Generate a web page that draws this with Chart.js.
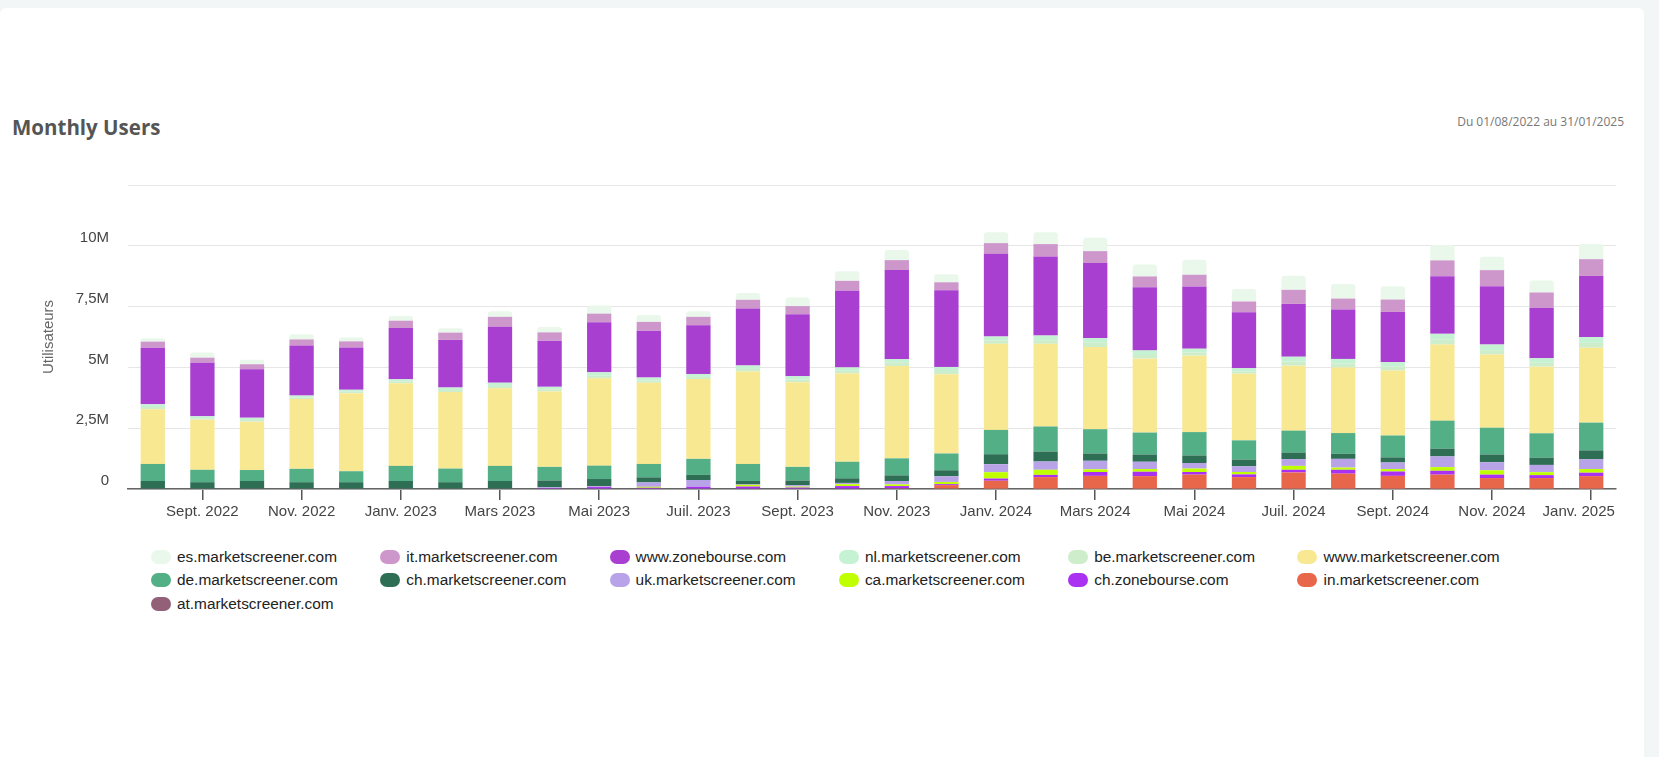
<!DOCTYPE html>
<html>
<head>
<meta charset="utf-8">
<title>Monthly Users</title>
<script src="https://cdn.jsdelivr.net/npm/chart.js@4.4.1/dist/chart.umd.min.js"></script>
<style>
    body { margin: 0; width: 1659px; height: 757px; background: #f3f6f6; overflow: hidden; font-family: "Liberation Sans", Arial, sans-serif; }
    .card { position: absolute; left: 0; top: 8px; width: 1644px; height: 749px; background: #fff; border-radius: 6px 6px 0 0; }
    .title { position: absolute; left: 12px; top: 105px; font: bold 20.5px/28px "Open Sans", sans-serif; color: #555; }
    .period { position: absolute; right: 20px; top: 105px; font: 12px/18px "Open Sans", sans-serif; color: #777; }
    .chart-box { position: absolute; left: 0; top: 150px; width: 1659px; height: 379px; }
    #legend { position: absolute; left: 151px; top: 545px; display: grid; grid-template-columns: repeat(6, 229.3px); grid-auto-rows: 23.5px; }
    .item { display: flex; align-items: center; font-size: 15.4px; color: #222; white-space: nowrap; }
    .dot { width: 20px; height: 14px; border-radius: 7px; margin-right: 6px; flex: none; }
</style>
</head>
<body>
<div class="card">
    <div class="title">Monthly Users</div>
    <div class="period">Du 01/08/2022 au 31/01/2025</div>
</div>
<div class="chart-box"><canvas id="usersChart"></canvas></div>
<div id="legend"></div>

<script>
// values in millions of users, Aug 2022 -> Jan 2025
const months = [
    "Août 2022", "Sept. 2022", "Oct. 2022", "Nov. 2022", "Déc. 2022",
    "Janv. 2023", "Févr. 2023", "Mars 2023", "Avr. 2023", "Mai 2023", "Juin 2023", "Juil. 2023",
    "Août 2023", "Sept. 2023", "Oct. 2023", "Nov. 2023", "Déc. 2023",
    "Janv. 2024", "Févr. 2024", "Mars 2024", "Avr. 2024", "Mai 2024", "Juin 2024", "Juil. 2024",
    "Août 2024", "Sept. 2024", "Oct. 2024", "Nov. 2024", "Déc. 2024", "Janv. 2025"
];
const yTickLabels = ["0", "2,5M", "5M", "7,5M", "10M", ""];

const esMs   = [0.14,0.21,0.18,0.21,0.16,0.19,0.18,0.23,0.22,0.34,0.28,0.23,0.28,0.35,0.39,0.42,0.33,0.45,0.49,0.55,0.49,0.62,0.51,0.58,0.60,0.55,0.63,0.55,0.49,0.62];
const itMs   = [0.25,0.21,0.21,0.25,0.25,0.30,0.30,0.41,0.34,0.35,0.36,0.35,0.36,0.33,0.41,0.41,0.33,0.44,0.51,0.49,0.44,0.48,0.44,0.58,0.45,0.51,0.65,0.66,0.64,0.69];
const wwwZb  = [2.33,2.20,1.99,2.06,1.74,2.11,1.96,2.30,1.90,2.06,1.93,2.00,2.34,2.55,3.15,3.66,3.15,3.40,3.25,3.08,2.60,2.56,2.30,2.17,2.03,2.06,2.37,2.40,2.06,2.51];
const nlMs   = [0.11,0.08,0.09,0.08,0.08,0.09,0.10,0.13,0.10,0.14,0.12,0.12,0.14,0.14,0.14,0.15,0.17,0.17,0.19,0.20,0.19,0.16,0.13,0.20,0.19,0.19,0.24,0.23,0.19,0.24];
const beMs   = [0.09,0.06,0.07,0.06,0.06,0.07,0.08,0.10,0.09,0.11,0.09,0.09,0.11,0.11,0.11,0.13,0.13,0.13,0.15,0.17,0.15,0.13,0.10,0.17,0.16,0.16,0.20,0.18,0.16,0.20];
const wwwMs  = [2.25,2.06,1.99,2.87,3.21,3.40,3.15,3.19,3.10,3.59,3.34,3.28,3.80,3.48,3.63,3.80,3.26,3.54,3.40,3.38,3.04,3.14,2.74,2.67,2.70,2.67,3.13,3.01,2.74,3.08];
const deMs   = [0.70,0.51,0.45,0.55,0.45,0.62,0.56,0.62,0.56,0.55,0.55,0.66,0.70,0.56,0.68,0.70,0.69,1.00,1.03,1.00,0.90,0.96,0.79,0.90,0.85,0.90,1.15,1.10,1.00,1.14];
const chMs   = [0.33,0.28,0.33,0.28,0.28,0.33,0.28,0.33,0.28,0.30,0.21,0.21,0.14,0.19,0.19,0.23,0.25,0.41,0.41,0.30,0.30,0.31,0.28,0.27,0.21,0.21,0.32,0.32,0.30,0.37];
const ukMs   = [0,0,0,0,0,0,0,0,0.03,0.03,0.18,0.28,0.02,0.06,0.05,0.14,0.23,0.33,0.34,0.35,0.30,0.23,0.23,0.28,0.36,0.27,0.44,0.33,0.30,0.40];
const caMs   = [0,0,0,0,0,0,0,0,0,0,0.04,0,0.07,0.04,0.08,0.07,0.09,0.26,0.21,0.11,0.11,0.14,0.10,0.16,0.09,0.10,0.15,0.18,0.12,0.15];
const chZb   = [0,0,0,0,0,0,0,0,0.04,0.08,0.05,0.09,0.08,0.04,0.10,0.09,0.04,0.09,0.09,0.16,0.18,0.11,0.11,0.11,0.16,0.18,0.16,0.14,0.12,0.14];
const inMs   = [0,0,0,0,0,0,0,0,0,0,0,0,0.02,0.02,0.02,0.03,0.16,0.33,0.48,0.53,0.52,0.58,0.48,0.67,0.62,0.53,0.58,0.44,0.44,0.52];
const atMs   = [0,0,0,0,0,0,0,0,0,0,0,0,0,0,0,0,0,0.01,0.01,0.01,0.01,0.01,0.01,0.01,0.01,0.01,0.01,0.01,0.01,0.01];

// bottom of the stack first
const series = [
    { label: "at.marketscreener.com", data: atMs, color: "#936177" },
    { label: "in.marketscreener.com", data: inMs, color: "#e8674a" },
    { label: "ch.zonebourse.com", data: chZb, color: "#aa30f2" },
    { label: "ca.marketscreener.com", data: caMs, color: "#bfff00" },
    { label: "uk.marketscreener.com", data: ukMs, color: "#b8a3e8" },
    { label: "ch.marketscreener.com", data: chMs, color: "#2d6e55" },
    { label: "de.marketscreener.com", data: deMs, color: "#52af86" },
    { label: "www.marketscreener.com", data: wwwMs, color: "#f9e892" },
    { label: "be.marketscreener.com", data: beMs, color: "#cdedcb" },
    { label: "nl.marketscreener.com", data: nlMs, color: "#c5f2d2" },
    { label: "www.zonebourse.com", data: wwwZb, color: "#a83fd0" },
    { label: "it.marketscreener.com", data: itMs, color: "#cd97cb" },
    { label: "es.marketscreener.com", data: esMs, color: "#eaf7eb" }
];

Chart.defaults.font.family = '"Liberation Sans", Arial, sans-serif';
Chart.defaults.font.size = 15;

const ctx = document.getElementById("usersChart").getContext("2d");
const usersChart = new Chart(ctx, {
    type: "bar",
    data: {
        labels: months,
        datasets: series.map(s => ({
            label: s.label,
            data: s.data,
            backgroundColor: s.color,
            borderWidth: 0,
            borderRadius: 3,
            categoryPercentage: 1,
            barPercentage: 0.49
        }))
    },
    options: {
        responsive: true,
        maintainAspectRatio: false,
        animation: false,
        layout: { padding: { top: 35, right: 43, bottom: 0, left: 0 } },
        plugins: {
            legend: { display: false },
            tooltip: { enabled: false }
        },
        scales: {
            x: {
                stacked: true,
                afterFit: axis => { axis.height = 40; },
                grid: { offset: false, drawOnChartArea: false, drawTicks: true, tickLength: 11, color: "#555", lineWidth: 1.5 },
                border: { color: "#666", width: 1.5 },
                ticks: {
                    autoSkip: false,
                    maxRotation: 0,
                    padding: 3,
                    color: "#444",
                    callback: (v, i) => {
                        if (i % 2 === 0) return null;
                        // last label kept inside the plot area
                        return i === months.length - 1 ? months[i] + "      " : months[i];
                    }
                }
            },
            y: {
                stacked: true,
                min: 0,
                max: 12.5,
                afterFit: axis => { axis.width = 128; },
                grid: { color: "#e6e6e6", drawTicks: false },
                border: { display: false },
                ticks: {
                    stepSize: 2.5,
                    padding: 19,
                    labelOffset: -8,
                    color: "#444",
                    callback: (v, i) => yTickLabels[i]
                },
                title: {
                    display: true,
                    text: "Utilisateurs",
                    color: "#666",
                    font: { size: 15 },
                    padding: { top: 40, bottom: 0 }
                }
            }
        }
    }
});

// legend with fixed columns, top of the stack first
const legend = document.getElementById("legend");
[...series].reverse().forEach(s => {
    const item = document.createElement("div");
    item.className = "item";
    const dot = document.createElement("span");
    dot.className = "dot";
    dot.style.background = s.color;
    item.appendChild(dot);
    item.appendChild(document.createTextNode(s.label));
    legend.appendChild(item);
});
</script>
</body>
</html>
